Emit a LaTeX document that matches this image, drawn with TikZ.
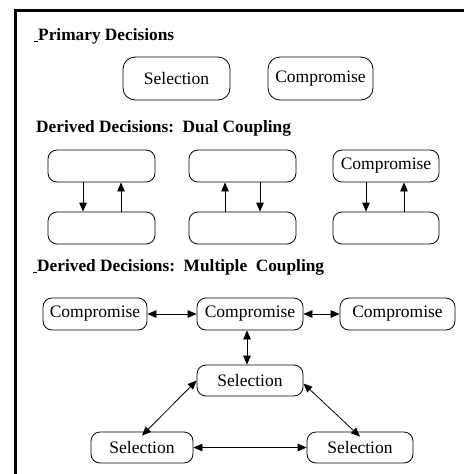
\documentclass[tikz,border=0pt]{standalone}
\usepackage{fontspec}
\setmainfont{Liberation Serif}
\usetikzlibrary{arrows.meta}
\begin{document}
\begin{tikzpicture}[x=1pt,y=-1pt,
  every node/.style={font=\fontsize{17.5}{20}\selectfont},
  box/.style={draw,line width=0.8pt,rounded corners=9pt,inner sep=0pt,minimum height=32pt},
  head/.style={anchor=west,inner sep=0pt,font=\fontsize{17.3}{20}\selectfont\bfseries},
  arr/.style={line width=0.8pt,-{Triangle[length=9pt,width=7.5pt]}},
  darr/.style={line width=0.8pt,{Triangle[length=9pt,width=7.5pt]}-{Triangle[length=9pt,width=7.5pt]}}]
\useasboundingbox (0,0) rectangle (464,474);
% frame
\draw[line width=3pt] (15.5,474) -- (15.5,10.5) -- (464,10.5);
% headings
\node[head] (h1) at (34,36) {\underline{\hspace{4pt}}Primary Decisions};
\node[head] (h2) at (36,128) {Derived Decisions:\ \ Dual Coupling};
\node[head] (h3) at (33,267) {\underline{\hspace{4pt}}Derived Decisions:\ \ Multiple\ \ Coupling};
% primary
\node[box,minimum width=107pt,minimum height=43pt,rounded corners=12pt] (ps) at (176.5,78.5) {Selection};
\node[box,minimum width=105pt,minimum height=43pt,rounded corners=12pt] (pc) at (320.5,78.5) {Compromise};
% dual coupling
\node[box,minimum width=107pt] (t1) at (101.5,166) {};
\node[box,minimum width=107pt] (b1) at (101.5,228) {};
\node[box,minimum width=107pt] (t2) at (242.5,166) {};
\node[box,minimum width=107pt] (b2) at (242.5,228) {};
\node[box,minimum width=106pt] (t3) at (386,166) {Compromise};
\node[box,minimum width=106pt] (b3) at (386,228) {};
\draw[arr] ([xshift=-18.5pt]t1.south) -- ([xshift=-18.5pt]b1.north);
\draw[arr] ([xshift=19.5pt]b1.north) -- ([xshift=19.5pt]t1.south);
\draw[arr] ([xshift=-17.5pt]b2.north) -- ([xshift=-17.5pt]t2.south);
\draw[arr] ([xshift=17.5pt]t2.south) -- ([xshift=17.5pt]b2.north);
\draw[arr] ([xshift=-20pt]t3.south) -- ([xshift=-20pt]b3.north);
\draw[arr] ([xshift=18pt]b3.north) -- ([xshift=18pt]t3.south);
% multiple coupling
\node[box,minimum width=104pt] (c1) at (95,314) {Compromise};
\node[box,minimum width=106pt] (c2) at (250,314) {Compromise};
\node[box,minimum width=115pt] (c3) at (397.5,314) {Compromise};
\node[box,minimum width=106pt,minimum height=31pt] (sm) at (250,380.5) {Selection};
\node[box,minimum width=102pt,minimum height=31pt] (sl) at (142,447.5) {Selection};
\node[box,minimum width=106pt,minimum height=31pt] (sr) at (360,447.5) {Selection};
\draw[darr] (c1.east) -- (c2.west);
\draw[darr] (c2.east) -- (c3.west);
\draw[darr] ([xshift=-3pt]c2.south) -- ([xshift=-3pt]sm.north);
\draw[darr] (sm.west) -- ([yshift=-4pt]sl.north);
\draw[darr] ([yshift=-3pt]sm.east) -- ([yshift=-5pt]sr.north);
\draw[darr] (sl.east) -- (sr.west);
\end{tikzpicture}
\end{document}
